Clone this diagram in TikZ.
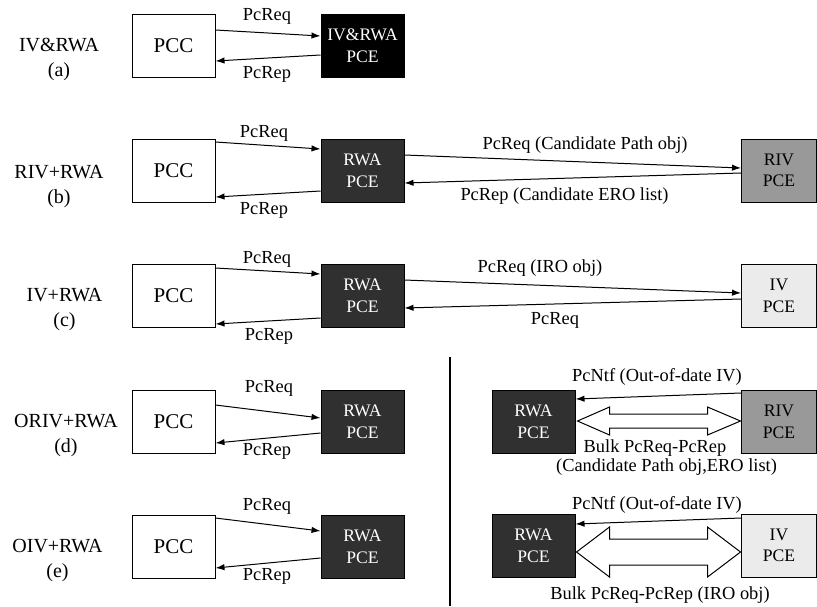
\documentclass[tikz,border=0pt]{standalone}
\usepackage{fontspec}
\setmainfont{Liberation Serif}
\usetikzlibrary{arrows.meta,calc}
\definecolor{rwagray}{HTML}{303030}
\definecolor{rivgray}{HTML}{999999}
\definecolor{ivgray}{HTML}{EBEBEB}
\begin{document}
\begin{tikzpicture}[x=0.5pt,y=-0.5pt,
  box/.style={draw=black, line width=0.5pt, minimum width=41.5pt, minimum height=31.5pt, inner sep=0pt, align=center, font=\fontsize{8.8}{10.8}\selectfont},
  narrow/.style={minimum width=37.5pt},
  pcc/.style={box, fill=white, font=\fontsize{10.5}{12}\selectfont},
  blackbox/.style={box, fill=black, text=white},
  rwa/.style={box, fill=rwagray, text=white},
  riv/.style={box, narrow, fill=rivgray},
  iv/.style={box, narrow, fill=ivgray},
  title/.style={align=center, inner sep=0pt, font=\fontsize{10}{12.5}\selectfont},
  lbl/.style={font=\fontsize{9.2}{11}\selectfont, inner sep=0pt, align=center},
  msg/.style={line width=0.5pt, -{Latex[length=4.5pt,width=3.2pt]}},
  big/.style={draw, line width=0.5pt, fill=white, line join=miter}
]
\useasboundingbox (0,0) rectangle (817,606);

% ---- row (a)
\node[title] (tA) at (59,59.5) {IV\&RWA\\(a)};
\node[pcc] (pccA) at (173.5,45.5) {PCC};
\node[blackbox] (pceA) at (362.5,45.5) {IV\&RWA\\PCE};
\draw[msg] ($(pccA.east)+(0,-15.5)$) -- ($(pceA.west)+(0,-9.5)$);
\draw[msg] ($(pceA.west)+(0,9.5)$) -- ($(pccA.east)+(0,15.5)$);
\node[lbl] (lA1) at (267,16) {PcReq};
\node[lbl] (lA2) at (267,74) {PcRep};

% ---- row (b)
\node[title] (tB) at (59,186.5) {RIV+RWA\\(b)};
\node[pcc] (pccB) at (173.5,170.5) {PCC};
\node[rwa] (pceB) at (362.5,170.5) {RWA\\PCE};
\node[riv] (rivB) at (779,170.5) {RIV\\PCE};
\draw[msg] ($(pccB.east)+(0,-28.5)$) -- ($(pceB.west)+(0,-21.5)$);
\draw[msg] ($(pceB.west)+(0,20.5)$) -- ($(pccB.east)+(0,26.5)$);
\draw[msg] ($(pceB.east)+(0,-15.5)$) -- ($(rivB.west)+(0,-2.5)$);
\draw[msg] ($(rivB.west)+(0,2.5)$) -- ($(pceB.east)+(0,12.5)$);
\node[lbl] (lB1) at (264,133) {PcReq};
\node[lbl] (lB2) at (264,210.5) {PcRep};
\node[lbl] (lB3) at (585,145) {PcReq (Candidate Path obj)};
\node[lbl] (lB4) at (564.5,196.5) {PcRep (Candidate ERO list)};

% ---- row (c)
\node[title] (tC) at (64.5,309.5) {IV+RWA\\(c)};
\node[pcc] (pccC) at (173.5,296) {PCC};
\node[rwa] (pceC) at (362.5,296) {RWA\\PCE};
\node[iv] (ivC) at (779,296) {IV\\PCE};
\draw[msg] ($(pccC.east)+(0,-28)$) -- ($(pceC.west)+(0,-22)$);
\draw[msg] ($(pceC.west)+(0,22)$) -- ($(pccC.east)+(0,28)$);
\draw[msg] ($(pceC.east)+(0,-16)$) -- ($(ivC.west)+(0,-3)$);
\draw[msg] ($(ivC.west)+(0,3)$) -- ($(pceC.east)+(0,12)$);
\node[lbl] (lC1) at (267,259) {PcReq};
\node[lbl] (lC2) at (269,336) {PcRep};
\node[lbl] (lC3) at (540,268.5) {PcReq (IRO obj)};
\node[lbl] (lC4) at (555,320) {PcReq};

% ---- row (d)
\node[title] (tD) at (66,435.5) {ORIV+RWA\\(d)};
\node[pcc] (pccD) at (173.5,421.5) {PCC};
\node[rwa] (pceD) at (362.5,421.5) {RWA\\PCE};
\draw[msg] ($(pccD.east)+(0,-16.5)$) -- ($(pceD.west)+(0,-3.5)$);
\draw[msg] ($(pceD.west)+(0,11.5)$) -- ($(pccD.east)+(0,21.5)$);
\node[lbl] (lD1) at (269,388) {PcReq};
\node[lbl] (lD2) at (267,451.5) {PcRep};

% ---- row (e)
\node[title] (tE) at (57.5,560) {OIV+RWA\\(e)};
\node[pcc] (pccE) at (173.5,546.5) {PCC};
\node[rwa] (pceE) at (362.5,546.5) {RWA\\PCE};
\draw[msg] ($(pccE.east)+(0,-28.5)$) -- ($(pceE.west)+(0,-15.5)$);
\draw[msg] ($(pceE.west)+(0,11.5)$) -- ($(pccE.east)+(0,21.5)$);
\node[lbl] (lE1) at (267,506) {PcReq};
\node[lbl] (lE2) at (267,576) {PcRep};

% ---- separator
\coordinate (sepT) at (450,357);
\coordinate (sepB) at (450,606);
\draw[line width=1.1pt] (sepT) -- (sepB);

% ---- right (d)
\node[rwa] (rwaRD) at (533.5,422) {RWA\\PCE};
\node[riv] (rivRD) at (779,422) {RIV\\PCE};
\draw[msg] ($(rivRD.west)+(0,-29)$) -- ($(rwaRD.east)+(0,-23)$);
\draw[big] ($(rwaRD.east)+(2,-1)$) -- ++(32,-14) -- ++(0,7) -- ++(98,0) -- ++(0,-7) -- ++(33,14) -- ++(-33,14) -- ++(0,-7) -- ++(-98,0) -- ++(0,7) -- cycle;
\node[lbl] (lRD1) at (657,376.5) {PcNtf (Out-of-date IV)};
\node[lbl] (lRD2) at (655,448) {Bulk PcReq-PcRep};
\node[lbl] (lRD3) at (666.5,467) {(Candidate Path obj,ERO list)};

% ---- right (e)
\node[rwa] (rwaRE) at (533.5,545.5) {RWA\\PCE};
\node[iv] (ivRE) at (779,545.5) {IV\\PCE};
\draw[msg] ($(ivRE.west)+(0,-27.5)$) -- ($(rwaRE.east)+(0,-21.5)$);
\draw[big] ($(rwaRE.east)+(1,6.5)$) -- ++(33,-25) -- ++(0,12) -- ++(98,0) -- ++(0,-12) -- ++(33,25) -- ++(-33,25) -- ++(0,-12) -- ++(-98,0) -- ++(0,12) -- cycle;
\node[lbl] (lRE1) at (657,505) {PcNtf (Out-of-date IV)};
\node[lbl] (lRE2) at (660,595) {Bulk PcReq-PcRep (IRO obj)};
\end{tikzpicture}
\end{document}
